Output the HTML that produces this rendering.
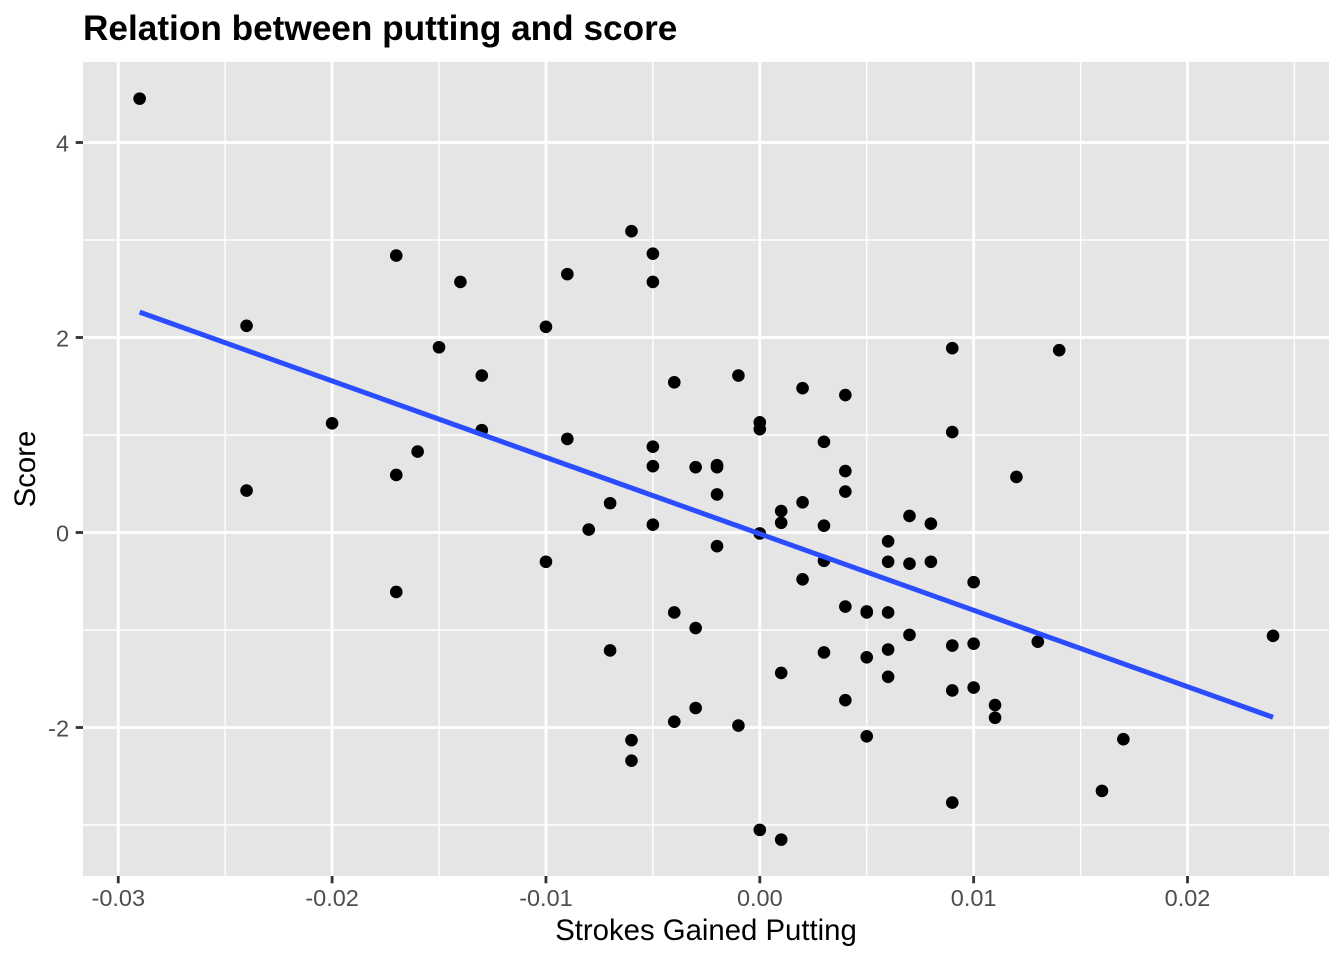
<!DOCTYPE html>
<html lang="en">
<head>
<meta charset="utf-8">
<title>Relation between putting and score</title>
<style>
html,body{margin:0;padding:0;background:#fff;width:1344px;height:960px;overflow:hidden}
svg{display:block;font-family:"Liberation Sans",Arial,sans-serif}
</style>
</head>
<body>
<svg id="chart" width="1344" height="960" viewBox="0 0 1344 960" xmlns="http://www.w3.org/2000/svg">
  <rect x="0" y="0" width="1344" height="960" fill="#ffffff"/>
  <rect x="83" y="62" width="1246" height="814" fill="#e5e5e5"/>
  <g id="grid-minor"></g>
  <g id="grid-major"></g>
  <g id="points"></g>
  <g id="trend"></g>
  <g id="x-axis"></g>
  <g id="y-axis"></g>
  <text x="83" y="40" font-size="35.2" font-weight="700" fill="#000000">Relation between putting and score</text>
  <text x="706" y="940" font-size="29.33" text-anchor="middle" fill="#000000">Strokes Gained Putting</text>
  <text x="0" y="0" transform="translate(35 469) rotate(-90)" font-size="29.33" text-anchor="middle" fill="#000000">Score</text>
</svg>
<script>
const xTicks = [-0.03, -0.02, -0.01, 0, 0.01, 0.02];
const xTickLabels = ["-0.03", "-0.02", "-0.01", "0.00", "0.01", "0.02"];
const xMinorTicks = [-0.025, -0.015, -0.005, 0.005, 0.015, 0.025];
const yTicks = [-2, 0, 2, 4];
const yTickLabels = ["-2", "0", "2", "4"];
const yMinorTicks = [-3, -1, 1, 3];
const putting = [
  -0.029,-0.024,-0.024,-0.020,-0.017,-0.017,-0.017,-0.016,-0.015,-0.014,
  -0.013,-0.013,-0.010,-0.010,-0.009,-0.009,-0.008,-0.007,-0.007,-0.006,
  -0.006,-0.006,-0.005,-0.005,-0.005,-0.005,-0.005,-0.004,-0.004,-0.004,
  -0.003,-0.003,-0.003,-0.002,-0.002,-0.002,-0.002,-0.001,-0.001,0,
  0,0,0,0.001,0.001,0.001,0.001,0.002,0.002,0.002,
  0.003,0.003,0.003,0.003,0.004,0.004,0.004,0.004,0.004,0.005,
  0.005,0.005,0.005,0.006,0.006,0.006,0.006,0.006,0.007,0.007,
  0.007,0.008,0.008,0.009,0.009,0.009,0.009,0.009,0.010,0.010,
  0.010,0.011,0.011,0.012,0.013,0.014,0.016,0.017,0.024
];
const score = [
  4.45,2.12,0.43,1.12,2.84,0.59,-0.61,0.83,1.90,2.57,
  1.61,1.05,2.11,-0.30,2.65,0.96,0.03,0.30,-1.21,3.09,
  -2.13,-2.34,2.86,2.57,0.88,0.68,0.08,1.54,-0.82,-1.94,
  0.67,-0.98,-1.80,0.69,0.67,0.39,-0.14,1.61,-1.98,1.13,
  1.06,-0.01,-3.05,0.22,0.10,-1.44,-3.15,1.48,0.31,-0.48,
  0.93,0.07,-0.29,-1.23,1.41,0.63,0.42,-0.76,-1.72,-0.81,
  -0.82,-1.28,-2.09,-0.09,-0.30,-0.82,-1.20,-1.48,0.17,-0.32,
  -1.05,0.09,-0.30,1.89,1.03,-1.16,-1.62,-2.77,-0.51,-1.14,
  -1.59,-1.77,-1.90,0.57,-1.12,1.87,-2.65,-2.12,-1.06
];
const trendX = [-0.029, 0.024];
const trendY = [2.26, -1.895];

const NS = "http://www.w3.org/2000/svg";
function xScale(v){ return 759.8 + v * 21385; }
function yScale(v){ return 532.5 - v * 97.5; }
function make(tag, attrs, parent){
  const el = document.createElementNS(NS, tag);
  for (const k in attrs) el.setAttribute(k, attrs[k]);
  parent.appendChild(el);
  return el;
}
const gMinor = document.getElementById("grid-minor");
const gMajor = document.getElementById("grid-major");
const gPoints = document.getElementById("points");
const gTrend = document.getElementById("trend");
const gX = document.getElementById("x-axis");
const gY = document.getElementById("y-axis");

xMinorTicks.forEach(function(t){
  const el = make("line", {x1:xScale(t), x2:xScale(t), y1:62, y2:876, stroke:"#ffffff", "stroke-width":1.4}, gMinor);
  
  
});
yMinorTicks.forEach(function(t){
  const el = make("line", {x1:83, x2:1329, y1:yScale(t), y2:yScale(t), stroke:"#ffffff", "stroke-width":1.4}, gMinor);
  
  
});
xTicks.forEach(function(t, i){
  const x = xScale(t);
  const grid = make("line", {x1:x, x2:x, y1:62, y2:876, stroke:"#ffffff", "stroke-width":2.8}, gMajor);
  
  
  const tick = make("line", {x1:x, x2:x, y1:876, y2:883.3, stroke:"#333333", "stroke-width":2.8}, gX);
  
  
  const label = make("text", {x:x, y:906, "font-size":23.47, "text-anchor":"middle", fill:"#4d4d4d"}, gX);
  label.textContent = xTickLabels[i];
  
  
});
yTicks.forEach(function(t, i){
  const y = yScale(t);
  const grid = make("line", {x1:83, x2:1329, y1:y, y2:y, stroke:"#ffffff", "stroke-width":2.8}, gMajor);
  
  
  const tick = make("line", {x1:75.7, x2:83, y1:y, y2:y, stroke:"#333333", "stroke-width":2.8}, gY);
  
  
  const label = make("text", {x:69, y:y + 9, "font-size":23.47, "text-anchor":"end", fill:"#4d4d4d"}, gY);
  label.textContent = yTickLabels[i];
  
  
});
putting.forEach(function(v, i){
  const c = make("circle", {cx:xScale(v), cy:yScale(score[i]), r:6.3, fill:"#000000"}, gPoints);
  
  
});
const trend = make("line", {
  x1:xScale(trendX[0]), y1:yScale(trendY[0]),
  x2:xScale(trendX[1]), y2:yScale(trendY[1]),
  stroke:"#2b4cff", "stroke-width":5
}, gTrend);


</script>
</body>
</html>
